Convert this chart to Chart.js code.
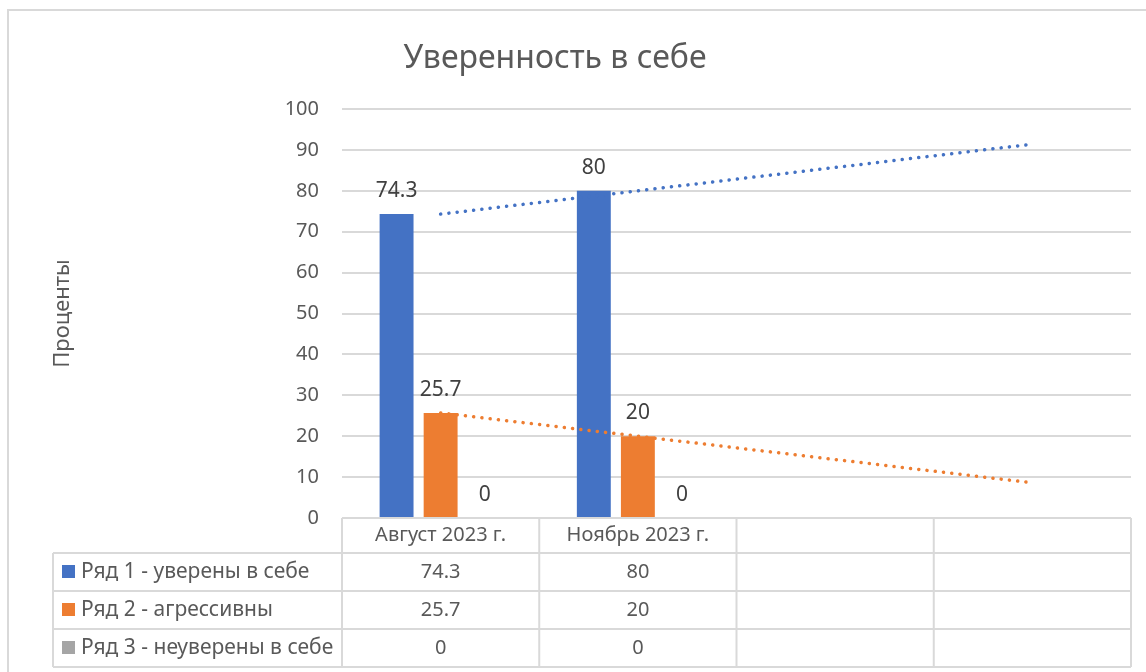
<!DOCTYPE html>
<html lang="ru">
<head>
<meta charset="utf-8">
<title>Уверенность в себе</title>
<script src="https://cdn.jsdelivr.net/npm/chart.js@4.4.1/dist/chart.umd.min.js"></script>
<style>
    html, body { margin: 0; padding: 0; background: #ffffff; }
    #wrap { width: 1146px; height: 672px; }
</style>
</head>
<body>
<div id="wrap"><canvas id="chart" width="1146" height="672"></canvas></div>
<script>
// Данные диаграммы
const categories = ['Август 2023 г.', 'Ноябрь 2023 г.', '', ''];
const seriesNames = ['Ряд 1 - уверены в себе', 'Ряд 2 - агрессивны', 'Ряд 3 - неуверены в себе'];
const confident = [74.3, 80, null, null];
const aggressive = [25.7, 20, null, null];
const unsure = [0, 0, null, null];
// линии тренда (концы)
const confidentTrend = [74.3, null, null, 91.4];
const aggressiveTrend = [25.7, null, null, 8.6];
const yTicks = [0, 10, 20, 30, 40, 50, 60, 70, 80, 90, 100];

const colors = ['#4472C4', '#ED7D31', '#A5A5A5'];
const fontFamily = '"Noto Sans", "DejaVu Sans", sans-serif';
const textColor = '#595959';
const lineColor = '#D9D9D9';

// Рамка, заголовок, подписи значений и таблица данных
const decorPlugin = {
    id: 'decor',
    beforeDraw(chart) {
        const ctx = chart.ctx;
        ctx.save();
        ctx.strokeStyle = lineColor;
        ctx.lineWidth = 2;
        ctx.strokeRect(8, 10, 1160, 700);
        ctx.fillStyle = textColor;
        ctx.font = '32px ' + fontFamily;
        ctx.textAlign = 'center';
        ctx.textBaseline = 'middle';
        ctx.fillText('Уверенность в себе', 555, 59);
        ctx.restore();
    },
    afterDraw(chart) {
        const ctx = chart.ctx;
        const x = chart.scales.x;
        const area = chart.chartArea;
        const catW = (area.right - area.left) / categories.length;
        ctx.save();

        // подписи над столбцами
        ctx.fillStyle = '#404040';
        ctx.font = '21px ' + fontFamily;
        ctx.textAlign = 'center';
        ctx.textBaseline = 'alphabetic';
        chart.data.datasets.forEach((ds, di) => {
            if (ds.type === 'line') return;
            chart.getDatasetMeta(di).data.forEach((bar, i) => {
                if (ds.data[i] === null) return;
                ctx.fillText(String(ds.data[i]), bar.x, bar.y - 17);
            });
        });

        // таблица данных
        const rowTops = [area.bottom, area.bottom + 35, area.bottom + 73, area.bottom + 111, area.bottom + 149];
        const tableLeft = 53;
        ctx.strokeStyle = lineColor;
        ctx.lineWidth = 2;
        ctx.beginPath();
        // горизонтальные линии
        ctx.moveTo(area.left, rowTops[0]); ctx.lineTo(area.right, rowTops[0]);
        for (let r = 1; r < rowTops.length; r++) {
            ctx.moveTo(tableLeft, rowTops[r]); ctx.lineTo(area.right, rowTops[r]);
        }
        // вертикальные линии
        ctx.moveTo(tableLeft, rowTops[1]); ctx.lineTo(tableLeft, rowTops[4]);
        for (let c = 0; c <= categories.length; c++) {
            const cx = x.getPixelForValue(0) - catW / 2 + c * catW;
            ctx.moveTo(cx, rowTops[0]); ctx.lineTo(cx, rowTops[4]);
        }
        ctx.stroke();

        ctx.fillStyle = textColor;
        ctx.font = '20px ' + fontFamily;
        ctx.textBaseline = 'middle';
        ctx.textAlign = 'center';
        categories.forEach((cat, i) => {
            ctx.fillText(cat, x.getPixelForValue(i), (rowTops[0] + rowTops[1]) / 2);
        });
        const seriesData = [confident, aggressive, unsure];
        seriesNames.forEach((name, s) => {
            const cy = (rowTops[s + 1] + rowTops[s + 2]) / 2;
            ctx.fillStyle = colors[s];
            ctx.fillRect(62, cy - 7, 13, 13);
            ctx.fillStyle = textColor;
            ctx.font = '21px ' + fontFamily;
            ctx.textAlign = 'left';
            ctx.fillText(name, 81, cy);
            ctx.textAlign = 'center';
            ctx.font = '20px ' + fontFamily;
            seriesData[s].forEach((v, i) => {
                if (v === null) return;
                ctx.fillText(String(v), x.getPixelForValue(i), cy);
            });
        });
        ctx.restore();
    }
};

const trendStyle = {
    type: 'line',
    borderWidth: 3.5,
    borderCapStyle: 'round',
    borderDash: [0.1, 8.2],
    pointRadius: 0,
    spanGaps: true,
    fill: false,
    order: 0
};

new Chart(document.getElementById('chart'), {
    data: {
        labels: categories,
        datasets: [
            { type: 'bar', label: seriesNames[0], data: confident, backgroundColor: colors[0], order: 1 },
            { type: 'bar', label: seriesNames[1], data: aggressive, backgroundColor: colors[1], order: 1 },
            { type: 'bar', label: seriesNames[2], data: unsure, backgroundColor: colors[2], order: 1 },
            Object.assign({ label: 'Тренд 1', data: confidentTrend, borderColor: colors[0] }, trendStyle),
            Object.assign({ label: 'Тренд 2', data: aggressiveTrend, borderColor: colors[1] }, trendStyle)
        ]
    },
    options: {
        responsive: false,
        animation: false,
        datasets: {
            bar: { categoryPercentage: 0.67, barPercentage: 0.77 }
        },
        layout: { padding: { top: 109, bottom: 154, left: 50, right: 15 } },
        scales: {
            x: { display: false, offset: true },
            y: {
                min: 0,
                max: 100,
                afterBuildTicks(scale) {
                    scale.ticks = yTicks.map(v => ({ value: v }));
                },
                afterFit(scale) { scale.width = 292; },
                border: { display: false },
                grid: { color: lineColor, lineWidth: 2, drawTicks: false },
                ticks: {
                    color: textColor,
                    padding: 23,
                    font: { family: fontFamily, size: 20 }
                },
                title: {
                    display: true,
                    text: 'Проценты',
                    color: textColor,
                    padding: 0,
                    font: { family: fontFamily, size: 22 }
                }
            }
        },
        plugins: {
            legend: { display: false },
            title: { display: false },
            tooltip: { enabled: false }
        }
    },
    plugins: [decorPlugin]
});
</script>
</body>
</html>
